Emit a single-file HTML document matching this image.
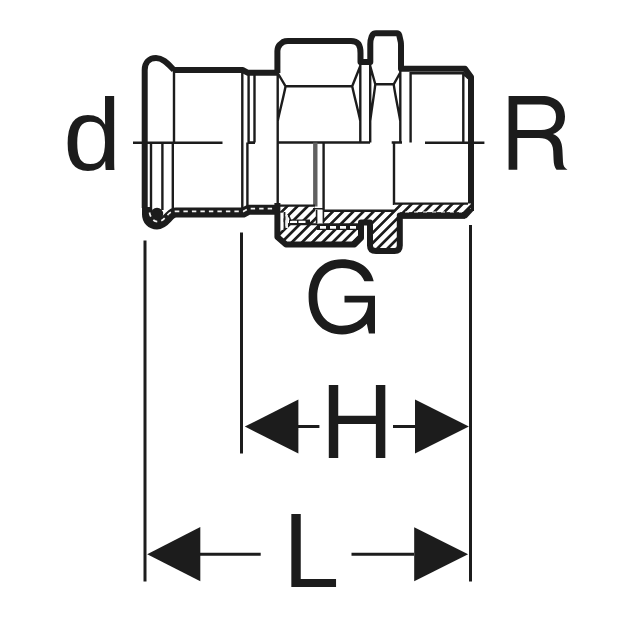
<!DOCTYPE html>
<html><head><meta charset="utf-8">
<style>
html,body{margin:0;padding:0;background:#fff;width:640px;height:640px;overflow:hidden}
svg{display:block}
text{font-family:"Liberation Sans",sans-serif;fill:#1c1c1c}
</style></head>
<body>
<svg width="640" height="640" viewBox="0 0 640 640">
<defs>
<pattern id="hatch" patternUnits="userSpaceOnUse" width="7.2" height="7.2" patternTransform="rotate(45) translate(2,0)">
<rect width="7.2" height="7.2" fill="#fff"/>
<rect x="0" y="0" width="2.7" height="7.2" fill="#1c1c1c"/>
</pattern>
</defs>
<g fill="none" stroke="#1c1c1c" stroke-linejoin="round">

<!-- centerline -->
<path stroke-width="2.6" d="M133,142.8H222.5 M248,142.6H255 M277,142.5H370 M391.7,142.5H402 M425,142.8H484.4"/>

<!-- socket thin lines -->
<path stroke-width="2.4" d="M174,70V142.8 M242.3,72V208 M248.6,73V142.6 M254.5,73V142.6 M247.4,142.6V207 M151,142.8V210 M162.4,142.8V210 M172.8,142.8V210"/>

<!-- nut interior top -->
<path stroke-width="2.4" d="M277.7,73L285.6,86.3H352.2L360.3,66 M285.6,86.3C283.5,97 280,110 277.7,121 M277.7,73V207 M352.2,86.3C354.5,97 358,110 360.3,121 M360.3,64V142.5 M370.2,64V142.5 M370.2,66L375.3,84.3H393.7L400.3,72.5 M375.3,84.3C373.8,97 371.5,110 370.2,121 M393.7,84.3C395.5,97 398.5,110 400.3,121 M400.3,66V142.5 M410.6,72V142.5 M463.3,72V142.5 M410.6,73.3H463.3L468.5,78.5"/>
<!-- below centerline thin -->
<path stroke-width="2.4" d="M323.6,142.5V210.5 M394,142.5V205"/>
<path stroke-width="4.4" stroke="#606060" d="M315.3,142.5V206.5"/>

<!-- socket outline top -->
<path stroke-width="6" d="M174,70C168,64 163,58 156,58C149,58 144.7,63 144.7,70V208"/>
<path stroke-width="6" d="M174,70H242.5L248,72.8H277"/>
<!-- nut + hex + male outline top -->
<path stroke-width="6" d="M277.4,73V51Q277.4,47 280,44.5L283,42Q285,41 288,41H351Q356,41 358.5,44Q360.5,47 360.5,53V62H370.3V44Q370.3,40 371.5,37L372.8,34.5Q373.5,33.2 376,33.2H397Q398.5,33.2 399.2,35L400.8,42Q401,43 401,46V68.7H465L471,77V211"/>

<!-- section: hatched body/nut/hex/male -->
<path fill="url(#hatch)" stroke="none" d="M277.5,205.5H315V210.7H394V203.4H471V211L465,217H400V246L395,251H375L370,246.5V222H361V237.5L355,245H285.5L277.5,237Z"/>
<path stroke-width="2.4" d="M277.5,205.6H315 M323,210.7H394 M394,203.6H468"/>
<path stroke-width="2" d="M287,224.3H362"/>
<path stroke-width="5.6" d="M317,227.3H360"/>
<path stroke="#fff" stroke-width="2.8" stroke-dasharray="6 4" d="M320,227.4H358"/>
<path stroke-width="5" d="M289,222H310"/>
<path stroke="#fff" stroke-width="2.4" stroke-dasharray="7 1.5" d="M290,221.9H307"/>
<rect x="317" y="210" width="6" height="13.5" fill="#fff" stroke="none"/>
<path stroke-width="1.6" d="M316.6,210V223.5 M323.4,210V223.5 M313,208.7H324"/>
<rect x="280" y="212.7" width="3.6" height="17.2" fill="#fff" stroke="none"/>
<path stroke-width="1.8" d="M284.5,212V230"/>
<rect x="285.5" y="215" width="2.5" height="13" fill="#eee" stroke="none"/>
<path stroke-width="1.5" d="M288.5,215L291,221"/>
<!-- section outline thick -->
<path stroke-width="6" d="M277.4,203V237L286,244.5H354.5L361,238V222.5H370V245.5Q370,251 376,251H394.5Q399.8,251 399.8,245.5V215.5H465L471,209"/>
<path stroke-width="6.5" d="M400,215.5H465"/>
<path stroke="#fff" stroke-width="1.2" stroke-dasharray="4 5" d="M405,212H462"/>

<!-- socket wall band -->
<path stroke-width="10" d="M147,207V214.5C147,220 151,224.5 157,224.5C163,224.5 166,219.5 169.5,216C171.5,213.8 173,212.5 176,212.5H243.3L248.4,209.8H278"/>
<path stroke-width="2.2" d="M146,209.4H152"/>
<circle cx="157" cy="214" r="6.2" fill="#1c1c1c" stroke="none"/>
<path stroke="#f4f4f4" stroke-width="1.7" stroke-dasharray="4.4 4.1" d="M149.5,212.5C150.5,218 153.5,221.7 158,221.7C162,221.7 165,218 168,214.5C170,212.5 172,211.4 176,211.4H243.3L248.4,208.6H276"/>
</g>

<text transform="translate(63.33,170.2) scale(1.042,1.015)" font-size="100">d</text>
<path fill="#1c1c1c" fill-rule="evenodd" d="M508.6,96H542C556,96 565,104 565,116.5C565,126 560,131.5 553,134C559,136.5 562,141 562.4,150L563,162C563.3,166 564.5,168 567.5,169.7H556.5C554.5,167.5 553.8,164 553.6,160L553.2,151C552.8,142 548,138 539,138H517.3V169.7H508.6Z M517.3,104.6H541C551,104.6 556,109 556,117C556,125 551,130 541,130H517.3Z"/>
<path fill="#1c1c1c" d="M373.7,281.2C371,268 359,259.3 342,259.3C321,259.3 308.6,275 308.6,297C308.6,320 322,334.4 342,334.4C353,334.4 362,329 366.8,323.7L368.9,333.5H375V295.7H344.5V302.6H368C368,316 357,325.8 342,325.8C327,325.8 317.3,314 317.3,297C317.3,279 327,268 342,268C353,268 361,272.5 364.4,281.2Z"/>
<text transform="translate(320.6,458) scale(1.0125,1.064)" font-size="100">H</text>
<text transform="translate(282.9,587.3) scale(1.014,1.061)" font-size="100">L</text>

<!-- dimension lines -->
<g stroke="#1c1c1c" stroke-width="3" fill="none">
<path d="M145,240.5V581.5 M241.5,232.5V453.5 M470.5,225V581.5 M298,426.6H319.4 M393,426.6H415 M200,554.2H260.7 M351.5,554.2H414"/>
</g>
<g fill="#1c1c1c">
<path d="M244.8,426.6L298.4,399.5V453.4Z"/>
<path d="M468.9,426.6L415,399.5V453.4Z"/>
<path d="M147.2,554.2L200.3,527V581.3Z"/>
<path d="M468.1,554.2L414.2,527.3V581.3Z"/>
</g>
</svg>
</body></html>
